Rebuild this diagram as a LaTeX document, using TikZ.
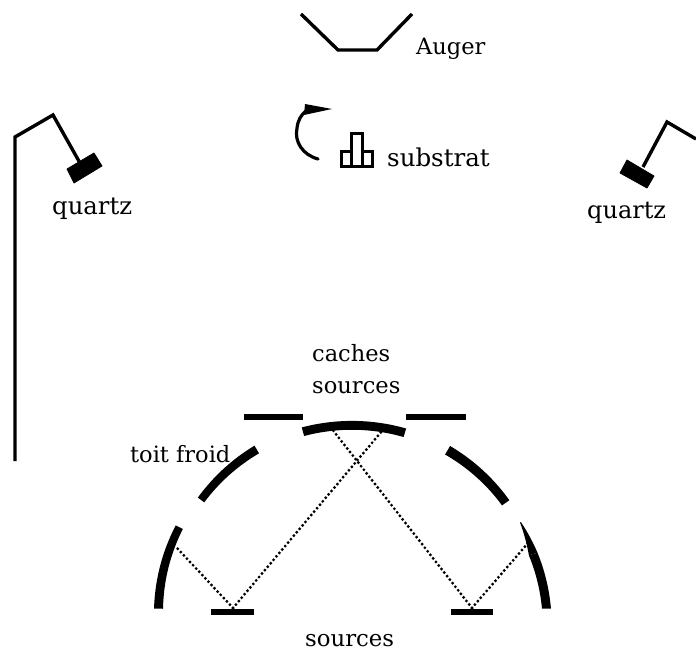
\documentclass[tikz,border=0pt]{standalone}
\usepackage{fontspec}
\setmainfont{DejaVu Serif}
\begin{document}
\begin{tikzpicture}[x=1pt,y=-1pt,
  lbl/.style={anchor=base west,inner sep=0pt,font=\fontsize{#1}{30}\selectfont,text=txt},
  wire/.style={draw=txt,line width=3.4pt,line join=miter},
  block/.style={fill=txt,draw=txt,line width=0.8pt,line join=round},
  bar/.style={draw=txt,line width=5.5pt},
  ray/.style={draw=txt,line width=3.2pt,line cap=round,dash pattern=on 0pt off 4.5pt},
  sub/.style={draw=txt,line width=3pt},
]
\definecolor{txt}{HTML}{000000}
\useasboundingbox (0,0) rectangle (696,652);
\newcommand{\roofarc}[6]{% a1 rout1 rin1 a2 rout2 rin2
  \fill[txt] plot[domain=#1:#4,samples=30,smooth] ({352+(#2+(#5-#2)*(\x-#1)/(#4-#1))*cos(\x)},{612-(#2+(#5-#2)*(\x-#1)/(#4-#1))*0.985*sin(\x)})
    -- plot[domain=#4:#1,samples=30,smooth] ({352+(#6+(#3-#6)*(\x-#4)/(#1-#4))*cos(\x)},{612-(#6+(#3-#6)*(\x-#4)/(#1-#4))*0.985*sin(\x)}) -- cycle;
}
% labels
\node[lbl=22.5] (auger) at (416,55) {Auger};
\node[lbl=24.5] (substrat) at (387,167) {substrat};
\node[lbl=24.3] (quartzL) at (52,215) {quartz};
\node[lbl=24] (quartzR) at (587,219) {quartz};
\node[lbl=22.5] (caches) at (312,361) {caches};
\node[lbl=22.6] (sourcesT) at (312,393) {sources};
\node[lbl=22.5] (toit) at (130,462) {toit froid};
\node[lbl=22.8] (sourcesB) at (305,646) {sources};
% Auger
\draw[wire] (301,14) -- (338,50) -- (377,50) -- (412,14);
% left quartz
\draw[wire] (15,461) -- (15,137) -- (53,115) -- (80,163);
\fill[block] (67,169) -- (94,153) -- (102,166) -- (74,183) -- cycle;
% right quartz
\draw[wire] (696,139) -- (667,122) -- (643,167);
\fill[block] (627,160) -- (654,176) -- (647,188) -- (620,173) -- cycle;
% rotation arrow
\draw[draw=txt,line width=3.2pt,line cap=round] (318,159) .. controls (303,155) and (294,142) .. (297,128) .. controls (298,120) and (301,115) .. (306,111);
\fill[txt] (332,109) -- (305,104) -- (304,115) -- cycle;
% substrate
\draw[sub] (351,167) -- (351,134) -- (362,134) -- (362,167);
\draw[sub] (351,152) -- (341,152) -- (341,167) -- (372,167) -- (372,152) -- (362,152);
% caches and sources bars
\draw[bar] (244,417) -- (303,417);
\draw[bar] (406,417) -- (466,417);
\draw[bar,line width=6pt] (211,612) -- (254,612);
\draw[bar,line width=6pt] (451,612) -- (493,612);
% cold roof
\roofarc{179}{198}{189}{153.5}{197}{189}
\roofarc{143}{193}{185}{120}{195}{186}
\roofarc{105}{194}{185}{73.8}{194}{185}
\roofarc{59.8}{195}{185}{35.8}{194}{185}
\roofarc{28.4}{192}{191}{18}{195}{186}
\roofarc{18}{195}{186}{1}{199}{190}
% rays
\coordinate (srcL) at (233,608);
\coordinate (srcR) at (472,608);
\coordinate (hitLL) at (177,548);
\coordinate (hitTR) at (382,431);
\coordinate (hitTL) at (332,429);
\coordinate (hitLR) at (528,543);
\draw[ray] (srcL) -- (hitLL);
\draw[ray] (srcL) -- (hitTR);
\draw[ray] (srcR) -- (hitTL);
\draw[ray] (srcR) -- (hitLR);
\end{tikzpicture}
\end{document}
